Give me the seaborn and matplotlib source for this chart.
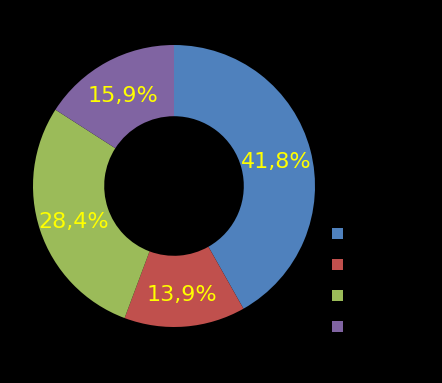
import matplotlib
matplotlib.use("Agg")
import matplotlib.pyplot as plt
from matplotlib.patches import Patch
import numpy as np
import seaborn as sns

categories = ["1", "2", "3", "4"]
values = [41.8, 13.9, 28.4, 15.9]
pct_labels = ["41,8%", "13,9%", "28,4%", "15,9%"]
colors = ["#4F81BD", "#C0504D", "#9BBB59", "#8064A2"]

sns.set_style("dark")
plt.rcParams["font.family"] = ["DejaVu Sans"]

fig = plt.figure(figsize=(4.42, 3.83), dpi=100, facecolor="black")
ax = fig.add_axes([33 / 442, 56 / 383, 282 / 442, 282 / 383])
ax.set_facecolor("black")

wedges, _ = ax.pie(values, colors=colors, startangle=90, counterclock=False,
                   radius=1.0, wedgeprops=dict(width=0.505, linewidth=0))
for w, lab in zip(wedges, pct_labels):
    mid = np.deg2rad((w.theta1 + w.theta2) / 2)
    r = 0.75
    ax.text(r * np.cos(mid), r * np.sin(mid) - 0.022, lab, ha="center", va="center",
            color="#FFFF00", fontsize=16)
ax.set_xlim(-1, 1)
ax.set_ylim(-1, 1)
ax.set_aspect("equal")
ax.axis("off")

handles = [Patch(facecolor=c, edgecolor="none") for c in colors]
leg = fig.legend(handles, categories, loc="upper left",
                 bbox_to_anchor=(327 / 442, 1 - 222 / 383),
                 frameon=False, fontsize=11, handlelength=0.75, handleheight=0.75,
                 labelspacing=1.05, handletextpad=0.6, borderaxespad=0, borderpad=0.3)
for t in leg.get_texts():
    t.set_color("black")

fig.savefig("out.png", dpi=100, facecolor="black")
